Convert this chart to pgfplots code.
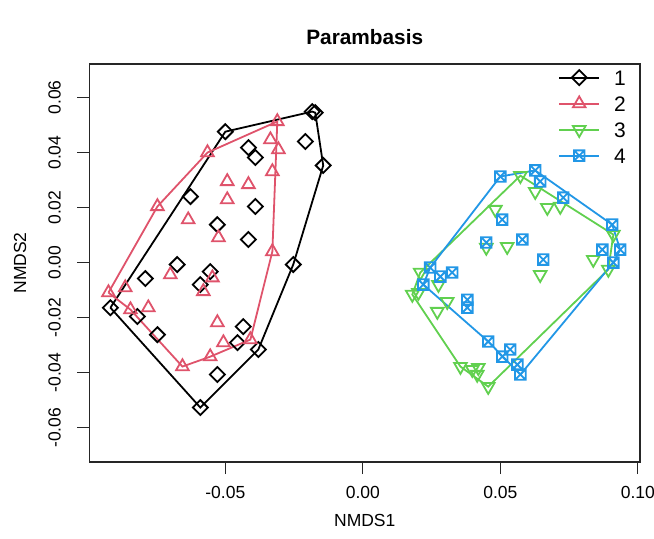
\documentclass[border=0pt]{standalone}
\usepackage{pgfplots}
\pgfplotsset{compat=1.18}
\usepackage{fontspec}
\setmainfont{Liberation Sans}
\definecolor{c1}{HTML}{000000}
\definecolor{c2}{HTML}{DF536B}
\definecolor{c3}{HTML}{61D04F}
\definecolor{c4}{HTML}{2297E6}
\pgfdeclareplotmark{boxx}{%
  \pgfpathrectangle{\pgfqpoint{-\pgfplotmarksize}{-\pgfplotmarksize}}{\pgfqpoint{2\pgfplotmarksize}{2\pgfplotmarksize}}%
  \pgfpathmoveto{\pgfqpoint{-\pgfplotmarksize}{-\pgfplotmarksize}}%
  \pgfpathlineto{\pgfqpoint{\pgfplotmarksize}{\pgfplotmarksize}}%
  \pgfpathmoveto{\pgfqpoint{-\pgfplotmarksize}{\pgfplotmarksize}}%
  \pgfpathlineto{\pgfqpoint{\pgfplotmarksize}{-\pgfplotmarksize}}%
  \pgfusepathqstroke}
\pgfplotsset{
  g1/.style={c1, line width=1.8bp, mark=square, mark size=5.3bp, mark options={rotate=45, solid}},
  g2/.style={c2, line width=1.8bp, mark=triangle, mark size=7.3bp, mark options={solid}},
  g3/.style={c3, line width=1.8bp, mark=triangle, mark size=7.3bp, mark options={rotate=180, solid}},
  g4/.style={c4, line width=1.8bp, mark=boxx, mark size=5.3bp, mark options={solid}},
}
\begin{document}
\begin{tikzpicture}
\useasboundingbox (-89.5bp,-77bp) rectangle (564.5bp,462bp);
\begin{axis}[
  at={(0,0)}, anchor=south west,
  scale only axis, width=550.5bp, height=398bp,
  xmin=-0.0994, xmax=0.1008, ymin=-0.0725, ymax=0.0722,
  scaled x ticks=false, scaled y ticks=false,
  axis line style={line width=1.2bp, black!85},
  tick align=outside, xtick pos=bottom, ytick pos=left,
  major tick length=12bp,
  every tick/.style={line width=1.2bp, black!85},
  xtick={-0.05,0,0.05,0.10},
  xticklabels={-0.05,0.00,0.05,0.10},
  ytick={-0.06,-0.04,-0.02,0,0.02,0.04,0.06},
  yticklabels={-0.06,-0.04,-0.02,0.00,0.02,0.04,0.06},
  xticklabel style={font=\fontsize{17.5bp}{20bp}\selectfont, anchor=base, inner sep=0pt, yshift=-24.5bp},
  yticklabel style={font=\fontsize{17.5bp}{20bp}\selectfont, rotate=90, anchor=center, inner sep=0pt, yshift=23bp},
  xlabel={NMDS1}, ylabel={NMDS2},
  xlabel style={font=\fontsize{17.5bp}{20bp}\selectfont, at={(axis description cs:0.5,-0.148)}, anchor=center, inner sep=0pt},
  ylabel style={font=\fontsize{17.5bp}{20bp}\selectfont, at={(axis description cs:-0.126,0.5)}, anchor=center, inner sep=0pt},
  title={Parambasis},
  title style={font=\bfseries\fontsize{20.8bp}{24bp}\selectfont, at={(axis description cs:0.5,1)}, anchor=base, yshift=14bp, inner sep=0pt},
  legend style={draw=none, fill=none, at={(axis description cs:1,1)}, anchor=north east, xshift=-11bp, yshift=-4bp,
    font=\fontsize{21bp}{24bp}\selectfont, row sep=11bp, column sep=14bp,
    nodes={inner sep=0pt, text height=15bp, text depth=0bp}},
  legend cell align=left,
  legend image code/.code={\draw[mark repeat=2, mark phase=2, #1] plot coordinates {(0bp,0bp) (20bp,0bp) (40bp,0bp)};},
  clip=false,
]
\addlegendimage{g1}\addlegendentry{1}
\addlegendimage{g2}\addlegendentry{2}
\addlegendimage{g3}\addlegendentry{3}
\addlegendimage{g4}\addlegendentry{4}

% group 1 points
\addplot[g1, only marks, forget plot] coordinates {
(-0.0918,-0.0164) (-0.0500,0.0476) (-0.0184,0.0549) (-0.0173,0.0545)
(-0.0416,0.0418) (-0.0391,0.0382) (-0.0209,0.0440) (-0.0144,0.0353)
(-0.0627,0.0240) (-0.0529,0.0138) (-0.0391,0.0204) (-0.0416,0.0084)
(-0.0675,-0.0007) (-0.0791,-0.0058) (-0.0555,-0.0033) (-0.0591,-0.0080)
(-0.0820,-0.0196) (-0.0747,-0.0262) (-0.0253,-0.0007) (-0.0435,-0.0233)
(-0.0456,-0.0291) (-0.0380,-0.0316) (-0.0529,-0.0407) (-0.0591,-0.0527)
};
% group 2 points
\addplot[g2, only marks, forget plot] coordinates {
(-0.0565,0.0400) (-0.0747,0.0204) (-0.0635,0.0156) (-0.0493,0.0295)
(-0.0493,0.0229) (-0.0416,0.0284) (-0.0311,0.0513) (-0.0336,0.0447)
(-0.0307,0.0411) (-0.0329,0.0331) (-0.0525,0.0091) (-0.0329,0.0040)
(-0.0700,-0.0044) (-0.0547,-0.0055) (-0.0580,-0.0105) (-0.0925,-0.0109)
(-0.0864,-0.0091) (-0.0845,-0.0171) (-0.0780,-0.0164) (-0.0529,-0.0218)
(-0.0507,-0.0291) (-0.0555,-0.0342) (-0.0656,-0.0378) (-0.0409,-0.0280)
};
% group 3 points
\addplot[g3, only marks, forget plot] coordinates {
(0.0573,0.0316) (0.0482,0.0193) (0.0449,0.0055) (0.0525,0.0058)
(0.0209,-0.0036) (0.0275,-0.0080) (0.0627,0.0258) (0.0671,0.0200)
(0.0718,0.0204) (0.0911,0.0102) (0.0838,0.0011) (0.0893,-0.0025)
(0.0645,-0.0044) (0.0180,-0.0116) (0.0202,-0.0109) (0.0307,-0.0142)
(0.0271,-0.0178) (0.0355,-0.0378) (0.0398,-0.0389) (0.0420,-0.0382)
(0.0416,-0.0407) (0.0456,-0.0451)
};
% group 4 points
\addplot[g4, only marks, forget plot] coordinates {
(0.0500,0.0313) (0.0627,0.0335) (0.0645,0.0295) (0.0729,0.0236)
(0.0907,0.0138) (0.0936,0.0047) (0.0871,0.0047) (0.0911,0.0000)
(0.0656,0.0011) (0.0580,0.0084) (0.0507,0.0156) (0.0449,0.0073)
(0.0325,-0.0036) (0.0282,-0.0051) (0.0245,-0.0018) (0.0220,-0.0080)
(0.0380,-0.0135) (0.0380,-0.0164) (0.0456,-0.0287) (0.0507,-0.0342)
(0.0536,-0.0316) (0.0562,-0.0371) (0.0573,-0.0407)
};
% hulls
\addplot[c1, line width=1.8bp, no marks, forget plot] coordinates {
(-0.0918,-0.0164) (-0.0500,0.0476) (-0.0184,0.0549) (-0.0173,0.0545)
(-0.0144,0.0353) (-0.0253,-0.0007) (-0.0380,-0.0316) (-0.0591,-0.0527) (-0.0918,-0.0164)
};
\addplot[c2, line width=1.8bp, no marks, forget plot] coordinates {
(-0.0925,-0.0109) (-0.0747,0.0204) (-0.0565,0.0400) (-0.0311,0.0513)
(-0.0329,0.0040) (-0.0409,-0.0280) (-0.0555,-0.0342) (-0.0656,-0.0378)
(-0.0845,-0.0171) (-0.0925,-0.0109)
};
\addplot[c3, line width=1.8bp, no marks, forget plot] coordinates {
(0.0209,-0.0036) (0.0573,0.0316) (0.0911,0.0102) (0.0893,-0.0025)
(0.0456,-0.0451) (0.0355,-0.0378) (0.0180,-0.0116) (0.0209,-0.0036)
};
\addplot[c4, line width=1.8bp, no marks, forget plot] coordinates {
(0.0245,-0.0018) (0.0500,0.0313) (0.0627,0.0335) (0.0907,0.0138)
(0.0936,0.0047) (0.0911,0.0000) (0.0573,-0.0407) (0.0456,-0.0287)
(0.0220,-0.0080) (0.0245,-0.0018)
};
\end{axis}
\end{tikzpicture}
\end{document}
